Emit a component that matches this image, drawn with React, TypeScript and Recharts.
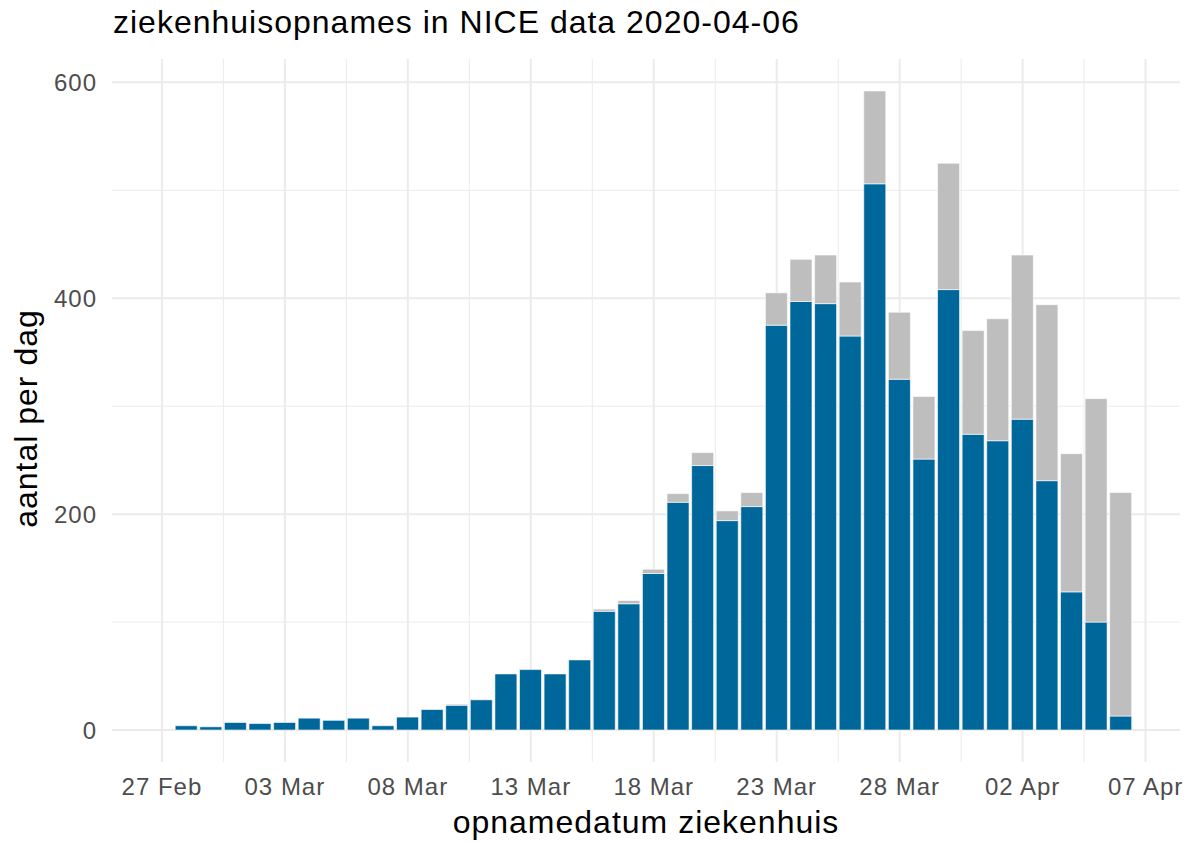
import { BarChart, Bar, XAxis, YAxis, CartesianGrid, Label } from 'recharts';

// opnamedatum (28 Feb - 06 Apr 2020)
const dates = [
  '2020-02-28', '2020-02-29', '2020-03-01', '2020-03-02', '2020-03-03', '2020-03-04', '2020-03-05',
  '2020-03-06', '2020-03-07', '2020-03-08', '2020-03-09', '2020-03-10', '2020-03-11', '2020-03-12',
  '2020-03-13', '2020-03-14', '2020-03-15', '2020-03-16', '2020-03-17', '2020-03-18', '2020-03-19',
  '2020-03-20', '2020-03-21', '2020-03-22', '2020-03-23', '2020-03-24', '2020-03-25', '2020-03-26',
  '2020-03-27', '2020-03-28', '2020-03-29', '2020-03-30', '2020-03-31', '2020-04-01', '2020-04-02',
  '2020-04-03', '2020-04-04', '2020-04-05', '2020-04-06',
];

// blue part of each bar
const confirmed = [
  4, 3, 7, 6, 7, 11, 9, 11, 4, 12, 19, 23, 28, 52, 56, 52, 65, 110, 117, 145, 211, 245, 194, 207,
  375, 397, 395, 365, 506, 325, 251, 408, 274, 268, 288, 231, 128, 100, 13,
];

// grey part stacked on top
const extra = [
  0, 0, 0, 0, 0, 0, 0, 0, 0, 0, 0, 1, 0, 0, 0, 0, 0, 2, 3, 4, 8, 12, 9, 13,
  30, 39, 45, 50, 86, 62, 58, 117, 96, 113, 152, 163, 128, 207, 207,
];

const xTickLabels = ['27 Feb', '03 Mar', '08 Mar', '13 Mar', '18 Mar', '23 Mar', '28 Mar', '02 Apr', '07 Apr'];
const xTicks = [0, 5, 10, 15, 20, 25, 30, 35, 40];
const xMinor = [2.5, 7.5, 12.5, 17.5, 22.5, 27.5, 32.5, 37.5];
const yTicks = [0, 200, 400, 600];
const yMinor = [100, 300, 500];

const origin = Date.UTC(2020, 1, 27);
const dayOf = (d: string) => {
  const [y, m, dd] = d.split('-').map(Number);
  return Math.round((Date.UTC(y, m - 1, dd) - origin) / 86400000);
};

const data = dates.map((d, i) => ({ day: dayOf(d), confirmed: confirmed[i], extra: extra[i] }));

const FONT = '"Liberation Sans", Arial, sans-serif';

export default function App() {
  return (
    <div style={{ position: 'absolute', left: 0, top: 0, width: 1189, height: 842, background: '#fff', fontFamily: FONT }}>
      <div style={{ position: 'absolute', left: 113, top: 2, fontSize: 32, letterSpacing: 1, color: '#000', lineHeight: '40px', whiteSpace: 'nowrap' }}>
        ziekenhuisopnames in NICE data 2020-04-06
      </div>
      <BarChart width={1189} height={842} data={data} margin={{ top: 59, right: 9, bottom: 0, left: 0 }} barGap={0}>
        <CartesianGrid stroke="#EBEBEB" strokeWidth={1} verticalValues={xMinor} horizontalValues={yMinor} />
        <CartesianGrid stroke="#EBEBEB" strokeWidth={2} verticalValues={xTicks} horizontalValues={yTicks} />
        <XAxis
          dataKey="day"
          type="number"
          domain={[-2.03, 41.4]}
          ticks={xTicks}
          tickFormatter={(v: number) => xTickLabels[xTicks.indexOf(v)] ?? ''}
          allowDataOverflow
          axisLine={false}
          tickLine={false}
          tickSize={0}
          tickMargin={16}
          height={80}
          tick={{ fontSize: 24, fill: '#4D4D4D', fontFamily: FONT, letterSpacing: 1 }}
        >
          <Label
            content={({ viewBox }: any) => (
              <text x={viewBox.x + viewBox.width / 2} y={833} textAnchor="middle" fontSize={32} letterSpacing={1} fill="#000" fontFamily={FONT}>
                opnamedatum ziekenhuis
              </text>
            )}
          />
        </XAxis>
        <YAxis
          type="number"
          domain={[-29.6, 621.6]}
          ticks={yTicks}
          allowDataOverflow
          axisLine={false}
          tickLine={false}
          tickSize={0}
          tickMargin={15}
          width={112}
          tick={{ fontSize: 24, fill: '#4D4D4D', fontFamily: FONT, letterSpacing: 1 }}
        >
          <Label
            content={({ viewBox }: any) => {
              const cy = viewBox.y + viewBox.height / 2 + 8;
              return (
                <text x={37} y={cy} transform={`rotate(-90, 37, ${cy})`} textAnchor="middle" fontSize={32} letterSpacing={1} fill="#000" fontFamily={FONT}>
                  aantal per dag
                </text>
              );
            }}
          />
        </YAxis>
        <Bar dataKey="confirmed" stackId="a" fill="#00679B" stroke="#ffffff" strokeWidth={0.6} barSize={22} isAnimationActive={false} />
        <Bar dataKey="extra" stackId="a" fill="#BEBEBE" stroke="#ffffff" strokeWidth={0.6} barSize={22} isAnimationActive={false} />
      </BarChart>
    </div>
  );
}
